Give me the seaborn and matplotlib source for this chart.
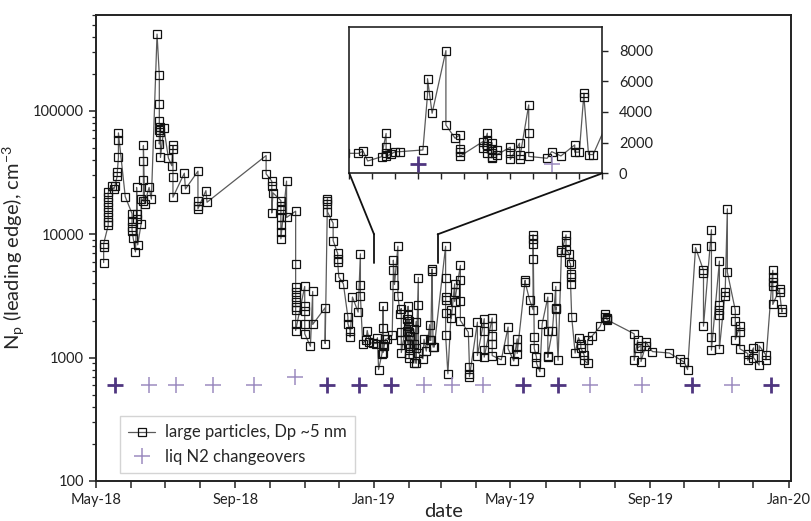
import numpy as np
import pandas as pd
import matplotlib
matplotlib.use('Agg')
import matplotlib.pyplot as plt
import matplotlib.dates as mdates
from matplotlib.ticker import LogLocator, FixedLocator, FuncFormatter, NullFormatter
from matplotlib.patches import ConnectionPatch
from matplotlib.lines import Line2D
import seaborn as sns

# leading-edge particle counts, grouped per sampling day (cm-3)
sample_dates = [
    '2018-05-08', '2018-05-12', '2018-05-15', '2018-05-17', '2018-05-18', '2018-05-20',
    '2018-05-21', '2018-05-27', '2018-06-02', '2018-06-03', '2018-06-05', '2018-06-06',
    '2018-06-07', '2018-06-10', '2018-06-12', '2018-06-13', '2018-06-17', '2018-06-19',
    '2018-06-24', '2018-06-26', '2018-06-27', '2018-06-30', '2018-07-04', '2018-07-07',
    '2018-07-08', '2018-07-18', '2018-07-19', '2018-07-30', '2018-08-06', '2018-08-07',
    '2018-09-28', '2018-10-03', '2018-10-04', '2018-10-11', '2018-10-16', '2018-10-24',
    '2018-11-01', '2018-11-06', '2018-11-08', '2018-11-19', '2018-11-21', '2018-11-26',
    '2018-11-30', '2018-12-01', '2018-12-05', '2018-12-09', '2018-12-11', '2018-12-13',
    '2018-12-18', '2018-12-20', '2018-12-22', '2018-12-25', '2018-12-26', '2018-12-28',
    '2018-12-31',
    '2019-01-03', '2019-01-04', '2019-01-05', '2019-01-08', '2019-01-09', '2019-01-10',
    '2019-01-11', '2019-01-12', '2019-01-17', '2019-01-18', '2019-01-19', '2019-01-22',
    '2019-01-24', '2019-01-25', '2019-01-30', '2019-01-31', '2019-02-01', '2019-02-02',
    '2019-02-05', '2019-02-07', '2019-02-09', '2019-02-13', '2019-02-14', '2019-02-16',
    '2019-02-19', '2019-02-20', '2019-02-21', '2019-02-22', '2019-02-23',
    '2019-03-05', '2019-03-07', '2019-03-10', '2019-03-13', '2019-03-18', '2019-03-25',
    '2019-03-26', '2019-04-02', '2019-04-08', '2019-04-15', '2019-04-23', '2019-04-29',
    '2019-05-04', '2019-05-07', '2019-05-14', '2019-05-18', '2019-05-21', '2019-05-22',
    '2019-05-24', '2019-05-27', '2019-05-29', '2019-06-03', '2019-06-07', '2019-06-10',
    '2019-06-12', '2019-06-15', '2019-06-19', '2019-06-22', '2019-06-23', '2019-06-24',
    '2019-06-27', '2019-06-30', '2019-07-02', '2019-07-05', '2019-07-08', '2019-07-12',
    '2019-07-19', '2019-07-23', '2019-07-25', '2019-08-18', '2019-08-21', '2019-08-24',
    '2019-08-28', '2019-09-03', '2019-09-18', '2019-09-27', '2019-10-01', '2019-10-04',
    '2019-10-11', '2019-10-18', '2019-10-25', '2019-11-01', '2019-11-06', '2019-11-08',
    '2019-11-15', '2019-11-19', '2019-11-26', '2019-12-01', '2019-12-06', '2019-12-12',
    '2019-12-18', '2019-12-24', '2019-12-26',
]
sample_values = [
    [5900, 7900, 8400], [11800, 12500, 13700, 15100, 16600, 18200, 20000, 21900], [24800],
    [23300], [24800], [29900, 31800],
    [42000, 58200, 66400], [20200], [14700, 12900, 11400, 10700], [9330], [7200], [13300, 14700, 24000],
    [8220], [12200, 19500], [18600, 27800, 39000, 52500], [17700], [24000], [19300],
    [420000], [195000, 113000, 83500, 70000, 54000], [67000, 73500, 42000], [72500], [41500], [36000],
    [52500, 49000, 29000, 20000], [31300], [23300], [32500, 18800, 17100, 16100], [22600], [18200],
    [43500, 30900], [27000, 24800, 14900], [21700], [18800, 17100, 15600, 13700, 12000, 10400, 9200],
    [27000, 13700], [15400, 5770, 3730, 3400, 3100, 2820, 2570, 2420, 1880, 1660],
    [3780, 2600, 2400, 1880, 1560], [1235], [3440, 1860], [2540, 1300], [18800, 19400, 17700, 15200],
    [12300, 8900],
    [7000, 6300, 5950], [4500], [3970], [2130, 1880], [1660, 1470], [3100],
    [2340], [6950, 3850, 3190], [1300], [1400], [1660], [1330],
    [1305],
    [1300], [1450], [800], [1080], [2600, 1740, 1300, 1100], [1250],
    [1410], [1410], [1520], [5110, 6170], [3915], [8000, 3150],
    [2280], [2500, 1400, 1600, 1100], [2060, 1630], [2610, 2200, 1800, 1300], [2000, 1600, 1300, 1080, 1000],
    [1500, 1200],
    [1700, 1300, 900], [1960, 1200, 900], [4460, 2650, 1100], [980], [1410], [1130],
    [1850, 1380], [1380], [5220, 5000], [1220], [1220],
    [8000, 4440, 3130, 2920, 2300, 1520], [740], [2420, 2080], [3970, 3400, 2850], [5600, 4280, 2900, 2000],
    [1610],
    [840, 740, 700], [1940, 1040], [2070, 1660, 1150, 1010], [2100, 1800, 1500, 1300, 1040], [960],
    [1770, 1180],
    [940], [1420, 1220, 1080], [4230, 4100], [2920], [2450, 6320, 8370, 9200, 9900], [1470, 1190],
    [1010, 900], [770], [1880], [3100, 1660, 1010, 1040], [1660], [3780, 2460, 2550],
    [950], [7400, 7150], [9900, 8900, 7480], [6950, 5950], [5770, 4790, 4500, 3970], [2130],
    [1090], [1450], [1300, 1200], [1050, 950], [900, 1400], [1500],
    [1790], [2270, 2130], [2110, 2070, 2030], [1560, 950], [1380, 1200], [1250, 930],
    [1250, 1350], [1120], [1090], [970], [920], [800],
    [7800], [5100, 4850, 1800], [10900, 8100, 1470, 1150], [6060, 2650, 2420, 2200, 1180], [3400, 3190],
    [16100, 4940],
    [2420, 2000, 1400], [1800, 1600, 1180], [1080, 950], [1200, 1000], [870, 1250], [1050, 960],
    [5100, 4480, 4090, 3780, 2700], [3620, 3400], [2340, 2500],
]

# liquid N2 changeovers (single and doubled-up markers)
n2_dates = ['2018-06-17', '2018-07-11', '2018-08-12', '2018-09-17', '2018-10-23',
            '2019-02-14', '2019-03-11', '2019-04-07', '2019-07-10', '2019-08-25', '2019-11-12']
n2_values = [600, 600, 600, 600, 700, 600, 600, 600, 600, 600, 600]
n2_double_dates = ['2018-05-18', '2018-11-21', '2018-12-19', '2019-01-16',
                   '2019-05-12', '2019-06-12', '2019-10-08', '2019-12-16']
n2_double_values = [600, 600, 600, 600, 600, 600, 600, 600]

inset_start, inset_end = '2019-01-01', '2019-02-25'

rows = [(d, v) for d, vals in zip(sample_dates, sample_values) for v in vals]
data = pd.DataFrame(rows, columns=['date', 'Np'])
data['date'] = pd.to_datetime(data['date'])
n2 = pd.DataFrame({'date': pd.to_datetime(n2_dates), 'Np': n2_values})
n2d = pd.DataFrame({'date': pd.to_datetime(n2_double_dates), 'Np': n2_double_values})

sns.set_style('ticks')
plt.rcParams['font.family'] = ['Lato', 'DejaVu Sans']
plt.rcParams['mathtext.default'] = 'regular'

line_kw = dict(estimator=None, sort=False, color='#5a5a5a', linewidth=0.9, marker='s',
               markersize=5.5, markerfacecolor='none', markeredgecolor='#111111',
               markeredgewidth=0.9)
light_purple = '#9c8cc0'
dark_purple = '#4f3680'

fig = plt.figure(figsize=(8.11, 5.21), dpi=100)
ax = fig.add_axes([0.118, 0.0768, 0.8573, 0.8944])

sns.lineplot(data=data, x='date', y='Np', ax=ax, **line_kw)
sns.scatterplot(data=n2, x='date', y='Np', ax=ax, marker='+', s=120,
                color=light_purple, linewidth=1.1, zorder=3)
sns.scatterplot(data=n2d, x='date', y='Np', ax=ax, marker='+', s=120,
                color=dark_purple, linewidth=2.0, zorder=3)

ax.set_yscale('log')
ax.set_ylim(100, 6e5)
ax.set_xlim(pd.Timestamp('2018-05-01'), pd.Timestamp('2020-01-03'))
ax.yaxis.set_major_locator(FixedLocator([100, 1000, 10000, 100000]))
ax.yaxis.set_major_formatter(FuncFormatter(lambda v, p: f'{v:.0f}'))
ax.yaxis.set_minor_locator(LogLocator(base=10, subs=np.arange(2, 10)))
ax.yaxis.set_minor_formatter(NullFormatter())
ax.xaxis.set_major_locator(mdates.MonthLocator(bymonth=[1, 5, 9]))
ax.xaxis.set_major_formatter(mdates.DateFormatter('%b-%y'))
ax.xaxis.set_minor_locator(mdates.MonthLocator())
ax.tick_params(which='major', direction='out', length=5, width=1.1, labelsize=10.5, colors='#222222')
ax.tick_params(axis='y', which='minor', direction='out', length=3, width=0.9)
ax.tick_params(axis='x', which='minor', direction='out', length=5, width=1.1)
for s in ax.spines.values():
    s.set_visible(True)
    s.set_linewidth(1.4)
    s.set_color('#222222')

ax.set_xlabel('date', fontsize=14.5, labelpad=-3)
ax.set_ylabel(r'N$_{p}$ (leading edge), cm$^{-3}$', fontsize=14.5, labelpad=4)

handles = [
    Line2D([], [], color='#5a5a5a', linewidth=0.9, marker='s', markersize=5.5,
           markerfacecolor='none', markeredgecolor='#111111', markeredgewidth=0.9),
    Line2D([], [], linestyle='none', marker='+', markersize=11, color=light_purple,
           markeredgewidth=1.1),
]
leg = ax.legend(handles, ['large particles, Dp ~5 nm', 'liq N2 changeovers'],
                loc='lower left', bbox_to_anchor=(0.035, 0.017), fontsize=12,
                frameon=True, fancybox=False, edgecolor='#d4d4d4', framealpha=1,
                handlelength=1.6, handletextpad=0.6, borderpad=0.5, labelspacing=0.5,
                borderaxespad=0)
leg.get_frame().set_linewidth(1.0)

# inset: Jan-Feb 2019 on a linear scale
ax_in = fig.add_axes([0.4307, 0.6674, 0.312, 0.2814])
ax_in.set_facecolor('white')
sns.lineplot(data=data, x='date', y='Np', ax=ax_in, **line_kw)
sns.scatterplot(data=n2, x='date', y='Np', ax=ax_in, marker='+', s=120,
                color=light_purple, linewidth=1.1, zorder=3)
sns.scatterplot(data=n2d, x='date', y='Np', ax=ax_in, marker='+', s=120,
                color=dark_purple, linewidth=2.0, zorder=3)
ax_in.set_xlim(pd.Timestamp(inset_start), pd.Timestamp(inset_end))
ax_in.set_ylim(0, 9560)
ax_in.yaxis.tick_right()
ax_in.set_yticks([0, 2000, 4000, 6000, 8000])
ax_in.set_xticks(pd.date_range(inset_start, inset_end, freq='5D'))
ax_in.set_xticklabels([])
ax_in.set_xlabel('')
ax_in.set_ylabel('')
ax_in.tick_params(which='major', direction='out', length=4, width=1.0, labelsize=10.5,
                  colors='#222222', pad=8)
for s in ax_in.spines.values():
    s.set_visible(True)
    s.set_linewidth(1.2)
    s.set_color('#222222')

# connectors from inset to the zoomed span on the main axes
zoom_top, zoom_bottom = 10000, 5800
for frac, day in [(0, inset_start), (1, '2019-02-26')]:
    xd = mdates.date2num(pd.Timestamp(day))
    con = ConnectionPatch(xyA=(frac, 0), coordsA=ax_in.transAxes,
                          xyB=(xd, zoom_top), coordsB=ax.transData,
                          color='#111111', linewidth=1.3)
    fig.add_artist(con)
    ax.plot([xd, xd], [zoom_top, zoom_bottom], color='#111111', linewidth=1.3)

fig.savefig('out.png', dpi=100)
